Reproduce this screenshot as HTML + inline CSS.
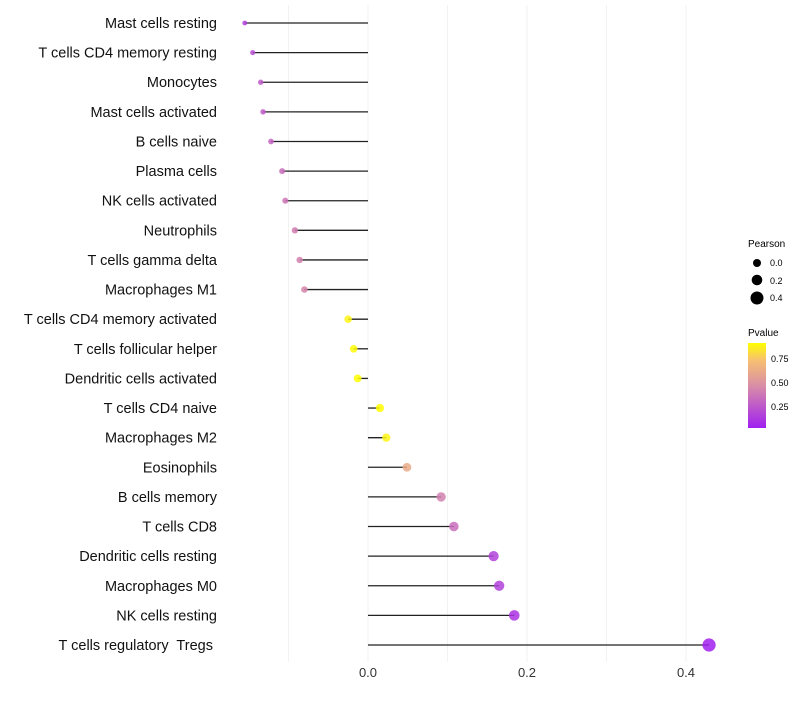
<!DOCTYPE html>
<html><head><meta charset="utf-8"><style>
body{margin:0;background:#fff;font-family:"Liberation Sans",sans-serif}
text{white-space:pre}
</style></head><body>
<svg id="chart" width="800" height="700" xmlns="http://www.w3.org/2000/svg">
<defs><linearGradient id="pg" x1="0" y1="1" x2="0" y2="0">
<stop offset="0" stop-color="#a020f0"/><stop offset="0.5" stop-color="#d98ea6"/><stop offset="0.8" stop-color="#f7c070"/><stop offset="1" stop-color="#ffff00"/></linearGradient></defs>
<g id="grid"></g><g id="marks"></g><g id="ylabels"></g><g id="xticks"></g>
<g font-size="9" fill="#000">
<text x="748" y="247" font-size="10">Pearson</text>
<circle cx="757" cy="263" r="4"/><text x="770" y="266">0.0</text>
<circle cx="757" cy="280" r="5.3"/><text x="770" y="284">0.2</text>
<circle cx="757" cy="298" r="6.5"/><text x="770" y="301">0.4</text>
<text x="748" y="336" font-size="10">Pvalue</text>
<rect x="748" y="343" width="18" height="85" fill="url(#pg)"/>
<text x="771" y="362">0.75</text><text x="771" y="386">0.50</text><text x="771" y="410">0.25</text>
</g>
</svg>
<script>
const categories=["Mast cells resting","T cells CD4 memory resting","Monocytes","Mast cells activated","B cells naive","Plasma cells","NK cells activated","Neutrophils","T cells gamma delta","Macrophages M1","T cells CD4 memory activated","T cells follicular helper","Dendritic cells activated","T cells CD4 naive","Macrophages M2","Eosinophils","B cells memory","T cells CD8","Dendritic cells resting","Macrophages M0","NK cells resting","T cells regulatory  Tregs "];
const pearson=[-0.155,-0.145,-0.135,-0.132,-0.122,-0.108,-0.104,-0.092,-0.086,-0.080,-0.025,-0.018,-0.013,0.015,0.023,0.049,0.092,0.108,0.158,0.165,0.184,0.429];
const pvalue=[0.2,0.25,0.3,0.3,0.33,0.38,0.4,0.43,0.45,0.47,0.9,0.92,0.93,0.93,0.9,0.65,0.45,0.38,0.2,0.2,0.15,0.05];
const xTicks=[0.0,0.2,0.4];
const xGrid=[-0.1,0.1,0.3];
const NS="http://www.w3.org/2000/svg";
const xs=v=>368+v*795;
const ys=i=>23+i*(622/21);
const rs=v=>Math.sqrt(Math.max(2.5,16+65*v));
function col(p){const t=Math.max(0,Math.min(1,(p-0.07)/0.86));
const st=[[0,[160,32,240]],[0.5,[217,142,166]],[0.8,[247,192,112]],[1,[255,255,0]]];
for(let k=1;k<st.length;k++){if(t<=st[k][0]){const a=st[k-1],b=st[k],f=(t-a[0])/(b[0]-a[0]);
return 'rgb('+a[1].map((c,j)=>Math.round(c+(b[1][j]-c)*f)).join(',')+')';}}return 'rgb(255,255,0)';}
function mk(tag,at,parent){const e=document.createElementNS(NS,tag);for(const k in at)e.setAttribute(k,at[k]);document.getElementById(parent).appendChild(e);return e;}
xGrid.concat(xTicks).forEach(v=>{const g=mk('line',{x1:xs(v),x2:xs(v),y1:5,y2:662,stroke:'#f2f2f2','stroke-width':1},'grid');

});
xTicks.forEach(v=>{const t=mk('text',{x:xs(v),y:677,'text-anchor':'middle','font-size':13,fill:'#333'},'xticks');t.textContent=v.toFixed(1);

});
categories.forEach((c,i)=>{const y=ys(i);
const l=mk('line',{x1:xs(0),x2:xs(pearson[i]),y1:y,y2:y,stroke:'#222','stroke-width':1.3},'marks');


const p=mk('circle',{cx:xs(pearson[i]),cy:y,r:rs(pearson[i]),fill:col(pvalue[i]),'fill-opacity':0.85},'marks');


const t=mk('text',{x:217,y:y+5,'text-anchor':'end','font-size':14.5,fill:'#111'},'ylabels');t.textContent=c;

});
</script>
</body></html>
